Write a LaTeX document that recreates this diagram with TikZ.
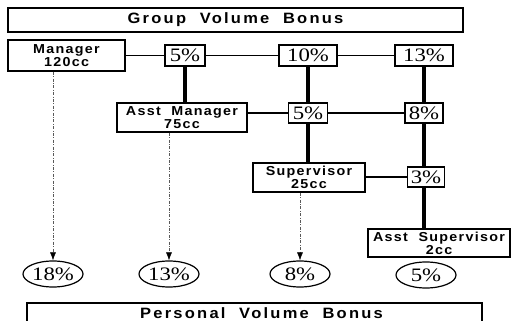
\documentclass[tikz,border=0pt]{standalone}
\usepackage{fontspec}
\newfontfamily\rankfont{Liberation Sans}[FakeStretch=1.1,LetterSpace=10]
\newfontfamily\bannerfont{Liberation Sans}[FakeStretch=1.1,LetterSpace=15]
\newfontfamily\pctfont{Liberation Serif}[FakeStretch=1.2]
\usetikzlibrary{arrows.meta}
\usetikzlibrary{shapes.geometric}
\tikzset{rankbox/.style={rectangle,draw=black,fill=white,line width=1.4pt,
inner sep=1pt,minimum height=29pt,align=center,
font=\rankfont\bfseries\fontsize{13}{13}\selectfont}}
\tikzset{bannerbox/.style={rectangle,draw=black,fill=white,line width=1.4pt,
inner sep=0pt,minimum height=24pt,minimum width=455pt,
font=\bannerfont\bfseries\fontsize{15}{17}\selectfont}}
\tikzset{pctbox/.style={rectangle,draw=black,fill=white,line width=1.4pt,
inner sep=0pt,minimum height=21pt,font=\pctfont\fontsize{19}{21}\selectfont}}
\tikzset{pctoval/.style={ellipse,draw=black,fill=white,line width=1.2pt,
inner sep=0pt,minimum height=26pt,minimum width=60pt,font=\pctfont\fontsize{19}{21}\selectfont}}
\tikzset{thinlink/.style={line width=1.2pt}}
\tikzset{trunk/.style={line width=4pt}}
\tikzset{bonusarrow/.style={line width=0.6pt,draw=black!65,
dash pattern=on 3pt off 1.5pt on 0.8pt off 1.5pt,
-{Latex[length=8pt,width=6pt,color=black]}}}

\begin{document}
\begin{tikzpicture}[x=1pt,y=-1pt]
        \clip (0,0) rectangle (511,321);
        \useasboundingbox (0,0) rectangle (511,321);

        \node[bannerbox] (group) at (235.5, 20) {Group~ Volume~ Bonus};

        \node[rankbox, minimum width=117pt, minimum height=31pt] (mgr) at (66.5, 55.5) {Manager\\120cc};
        \node[pctbox, minimum width=40pt] (p5a) at (185, 55.5) {5\%};
        \node[pctbox, minimum width=58pt] (p10) at (308, 55.5) {10\%};
        \node[pctbox, minimum width=58pt] (p13) at (424, 55.5) {13\%};

        \node[rankbox, minimum width=130pt] (am) at (182, 117.5) {Asst~ Manager\\75cc};
        \node[pctbox, minimum width=39pt, minimum height=20pt] (p5b) at (308, 113) {5\%};
        \node[pctbox, minimum width=38pt, minimum height=20pt] (p8) at (424, 113) {8\%};

        \node[rankbox, minimum width=112pt] (sup) at (309, 177.5) {Supervisor\\25cc};
        \node[pctbox, minimum width=37pt, minimum height=20pt] (p3) at (426, 177) {3\%};

        \node[rankbox, minimum width=142pt, minimum height=28pt] (asup) at (439, 243) {Asst~ Supervisor\\2cc};

        \node[pctoval] (e18) at (53, 274) {18\%};
        \node[pctoval] (e13) at (169, 274) {13\%};
        \node[pctoval] (e8) at (300, 274) {8\%};
        \node[pctoval] (e5) at (426, 275) {5\%};

        \node[bannerbox, minimum height=20pt] (personal) at (254.5, 313) {\hspace{14pt}Personal~ Volume~ Bonus};

        % group bonus links
        \draw[thinlink] (mgr) -- (p5a) -- (p10) -- (p13);
        \draw[thinlink] (am.east |- p5b) -- (p5b) -- (p8);
        \draw[thinlink] (sup.east |- p3) -- (p3);

        \draw[trunk] (p5a) -- (p5a |- am.north);
        \draw[trunk] (p10) -- (p5b);
        \draw[trunk] (p5b) -- (p5b |- sup.north);
        \draw[trunk] (p13) -- (p8);
        \draw[trunk] (p8.south -| p13) -- (p3.north -| p13);
        \draw[trunk] (p3.south -| p13) -- (p13 |- asup.north);

        % personal bonus arrows
        \draw[bonusarrow] (mgr.south -| e18) -- (e18.north);
        \draw[bonusarrow] (am.south -| e13) -- (e13.north);
        \draw[bonusarrow] (sup.south -| e8) -- (e8.north);

    \end{tikzpicture}
\end{document}
